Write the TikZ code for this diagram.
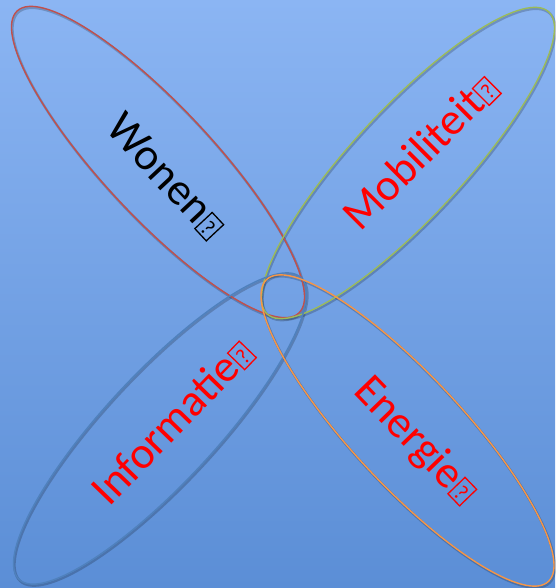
\documentclass[tikz,border=0pt]{standalone}
\usepackage{fontspec}
\setmainfont{Carlito}
\newcommand\qbx{\hspace{1.5pt}{\setlength\fboxsep{0pt}\setlength\fboxrule{1.3pt}\fbox{\makebox[15.4pt]{\rule[-0.7pt]{0pt}{22.4pt}\raisebox{1.5pt}{\fontsize{22}{22}\selectfont ?}}}}}
\definecolor{bgtop}{RGB}{139,181,243}
\definecolor{bgbot}{RGB}{91,142,214}
\definecolor{cred}{RGB}{192,80,77}
\definecolor{cgreen}{RGB}{155,187,89}
\definecolor{cblue}{RGB}{79,129,189}
\definecolor{corange}{RGB}{247,150,70}
\tikzset{
  petal/.style={line width=1.4pt},
  petalshadow/.style={line width=2.4pt, draw=black, draw opacity=0.2},
  lbl/.style={font=\fontsize{45}{45}\selectfont, inner sep=0pt, anchor=center}
}
\begin{document}
\begin{tikzpicture}[x=1pt,y=-1pt]
\useasboundingbox (0,0) rectangle (555,588);
\shade[top color=bgtop, bottom color=bgbot] (0,0) rectangle (555,588);
% shadows
\draw[petalshadow, rotate around={-47:(159,163.5)}] (159,163.5) ellipse [x radius=206.5pt, y radius=55pt];
\draw[petalshadow, rotate around={47:(409,164.5)}] (409,164.5) ellipse [x radius=206.5pt, y radius=55pt];
\draw[petalshadow, rotate around={47:(161,430)}] (161,430) ellipse [x radius=206.5pt, y radius=55pt];
\draw[petalshadow, rotate around={-47:(408.5,432)}] (408.5,432) ellipse [x radius=206.5pt, y radius=55pt];
% petals
\draw[petal, cred, rotate around={-47:(158,162)}] (158,162) ellipse [x radius=206.5pt, y radius=55pt];
\draw[petal, cgreen, rotate around={47:(408,163)}] (408,163) ellipse [x radius=206.5pt, y radius=55pt];
\draw[petal, cblue, rotate around={47:(160,428.5)}] (160,428.5) ellipse [x radius=206.5pt, y radius=55pt];
\draw[petal, corange, rotate around={-47:(407.5,430.5)}] (407.5,430.5) ellipse [x radius=206.5pt, y radius=55pt];
% labels
\node[lbl, text=black, rotate=-47] (wonen) at (166,176) {Wonen\qbx};
\node[lbl, text=red, rotate=45] (mobiliteit) at (420,152) {Mobiliteit\qbx};
\node[lbl, text=red, rotate=46] (informatie) at (172,422) {Informatie\qbx};
\node[lbl, text=red, rotate=-46] (energie) at (415,441) {Energie\qbx};
\end{tikzpicture}
\end{document}
